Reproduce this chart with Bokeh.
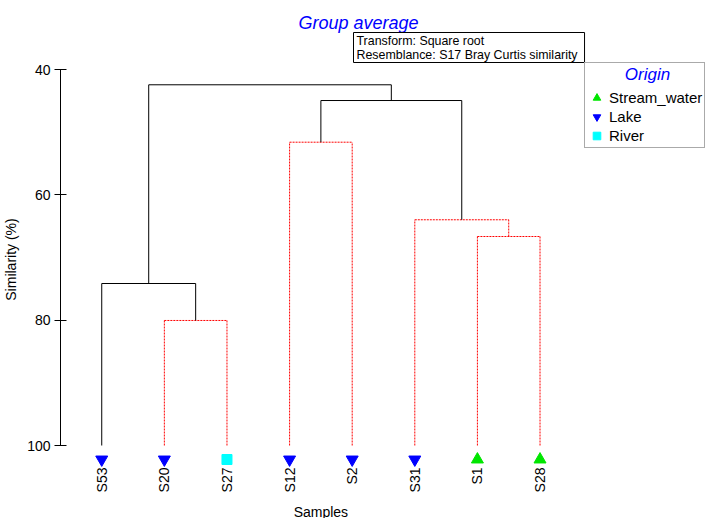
import math
from bokeh.plotting import figure
from bokeh.models import (Range1d, FixedTicker, Label, Legend, LegendItem,
                          ColumnDataSource)
from bokeh.core.properties import value
from bokeh.embed import file_html
from bokeh.resources import INLINE

# ---------------- data ----------------
samples = ["S53", "S20", "S27", "S12", "S2", "S31", "S1", "S28"]
origin = ["Lake", "Lake", "River", "Lake", "Lake", "Lake", "Stream_water", "Stream_water"]
# merges: (left, right, similarity %, significant structure?)
# leaves are sample names, earlier merges referenced as "m<i>"
merge_left = ["S20", "S53", "S12", "S1", "S31", "m2", "m1"]
merge_right = ["S27", "m0", "S2", "S28", "m3", "m4", "m5"]
merge_sim = [80.05, 74.15, 51.6, 66.65, 63.98, 44.95, 42.44]
merge_solid = [False, True, False, False, False, True, True]

legend_order = ["Stream_water", "Lake", "River"]
origin_marker = {"Stream_water": "triangle", "Lake": "inverted_triangle", "River": "square"}
origin_color = {"Stream_water": "#00E600", "Lake": "#0000FF", "River": "#00FFFF"}
origin_size = {"Stream_water": 12, "Lake": 12, "River": 10}

y_ticks = [40, 60, 80, 100]
leaf_sim = 100

FONT = "Liberation Sans"

# ---------------- layout (pixels, picture coordinates) ----------------
W, H = 706, 518
PAGE_TOP = 1                 # observed picture y of the plot's top edge
LEFT = 56                    # frame left border
FRAME_TOP = PAGE_TOP
FRAME_BOT = PAGE_TOP + H
FRAME_LEFT = 8 + LEFT
PX = 376.0 / 60.0            # pixels per similarity unit
Y40 = 70.0                   # picture y of the 40% tick
top_val = 40 - (Y40 - FRAME_TOP) / PX
bot_val = 40 + (FRAME_BOT - Y40) / PX
x_step = 63.0
x0_page = 105.5              # picture x of first sample
x_start = -(x0_page - FRAME_LEFT) / x_step
x_end = x_start + (W - LEFT) / x_step


def ry(page_y):
    """frame-relative screen y (from frame bottom, upward) of a picture y."""
    return FRAME_BOT - page_y


def rx(page_x):
    return page_x - FRAME_LEFT


marker_sim = leaf_sim + 14 / PX
label_sim = leaf_sim + 22 / PX

p = figure(width=W, height=H, output_backend="svg", toolbar_location=None,
           title=None, x_axis_location=None,
           x_range=Range1d(x_start, x_end), y_range=Range1d(bot_val, top_val),
           min_border_left=LEFT, min_border_right=0, min_border_top=0,
           min_border_bottom=0)
p.outline_line_color = None
p.grid.visible = False

# y axis
ya = p.yaxis[0]
ya.bounds = (40, 100)
ya.ticker = FixedTicker(ticks=y_ticks)
ya.major_tick_in = 6
ya.major_tick_out = 6
ya.minor_tick_line_color = None
ya.axis_line_color = "black"
ya.major_tick_line_color = "black"
ya.major_label_text_font = FONT
ya.major_label_text_font_size = "14px"
ya.major_label_text_color = "black"
ya.major_label_standoff = 4
ya.axis_label = "Similarity (%)"
ya.axis_label_text_font = FONT
ya.axis_label_text_font_size = "14px"
ya.axis_label_text_font_style = "normal"
ya.axis_label_text_color = "black"
ya.axis_label_standoff = 5

# ---------------- dendrogram segments ----------------
pos = {s: (float(i), float(leaf_sim)) for i, s in enumerate(samples)}
seg = {True: dict(x0=[], y0=[], x1=[], y1=[]), False: dict(x0=[], y0=[], x1=[], y1=[])}
for i, (a, b, h, solid) in enumerate(zip(merge_left, merge_right, merge_sim, merge_solid)):
    xa_, ya_ = pos[a]
    xb_, yb_ = pos[b]
    d = seg[solid]
    d["x0"] += [xa_, xb_]
    d["y0"] += [ya_, yb_]
    d["x1"] += [xa_, xb_]
    d["y1"] += [h, h]
    d["x0"].append(xa_)
    d["y0"].append(h)
    d["x1"].append(xb_)
    d["y1"].append(h)
    pos["m%d" % i] = ((xa_ + xb_) / 2.0, h)

p.segment(x0="x0", y0="y0", x1="x1", y1="y1", source=ColumnDataSource(seg[False]),
          line_color="#FF0000", line_width=1, line_dash="2 1")
p.segment(x0="x0", y0="y0", x1="x1", y1="y1", source=ColumnDataSource(seg[True]),
          line_color="black", line_width=1)

# ---------------- markers ----------------
items = []
for g in legend_order:
    xs = [i for i, o in enumerate(origin) if o == g]
    r = p.scatter(x=xs, y=[marker_sim] * len(xs), marker=origin_marker[g],
                  size=origin_size[g], fill_color=origin_color[g],
                  line_color=origin_color[g])
    items.append(LegendItem(label=g, renderers=[r]))

# sample names (vertical, reading upward)
p.text(x=list(range(len(samples))), y=[label_sim] * len(samples), text=samples,
       angle=math.pi / 2, text_align="right", text_baseline="middle",
       text_font=value(FONT), text_font_size="14px", text_color="black")

# x axis title
p.add_layout(Label(x=3.5, y=ry(512), x_units="data", y_units="screen", text="Samples",
                   text_font=FONT, text_font_size="14px", text_color="black",
                   text_align="center", text_baseline="alphabetic"))

# chart title
p.add_layout(Label(x=rx(302), y=ry(23.5), x_units="screen", y_units="screen",
                   text="Group average", text_font=FONT, text_font_size="18px",
                   text_font_style="italic", text_color="#0000FF",
                   text_align="left", text_baseline="alphabetic"))

# info box
p.add_layout(Label(x=rx(357), y=ry(33), x_units="screen", y_units="screen",
                   text="Transform: Square root\nResemblance: S17 Bray Curtis similarity",
                   text_font=FONT, text_font_size="12.4px", text_color="black",
                   text_align="left", text_baseline="top", text_line_height=1.0,
                   border_line_color="black", border_line_width=1,
                   background_fill_color="white",
                   padding=dict(left=3, right=7, top=1, bottom=1)))

# legend; the title is pushed towards the centre with no-break spaces
legend = Legend(items=items, location=(rx(588), ry(149)),
                title="\u00a0" * 8 + "Origin")
legend.title_text_font = FONT
legend.title_text_font_size = "17px"
legend.title_text_font_style = "italic"
legend.title_text_color = "#0000FF"
legend.title_standoff = 3
legend.label_text_font = FONT
legend.label_text_font_size = "15px"
legend.label_text_color = "black"
legend.label_height = 19
legend.glyph_height = 19
legend.glyph_width = 19
legend.label_standoff = 3
legend.spacing = 0
legend.padding = 2
legend.margin = 0
legend.border_line_color = "#555555"
legend.border_line_width = 1
legend.background_fill_color = "white"
legend.background_fill_alpha = 1
p.add_layout(legend, "center")

open("out.html", "w").write(file_html(p, INLINE))
